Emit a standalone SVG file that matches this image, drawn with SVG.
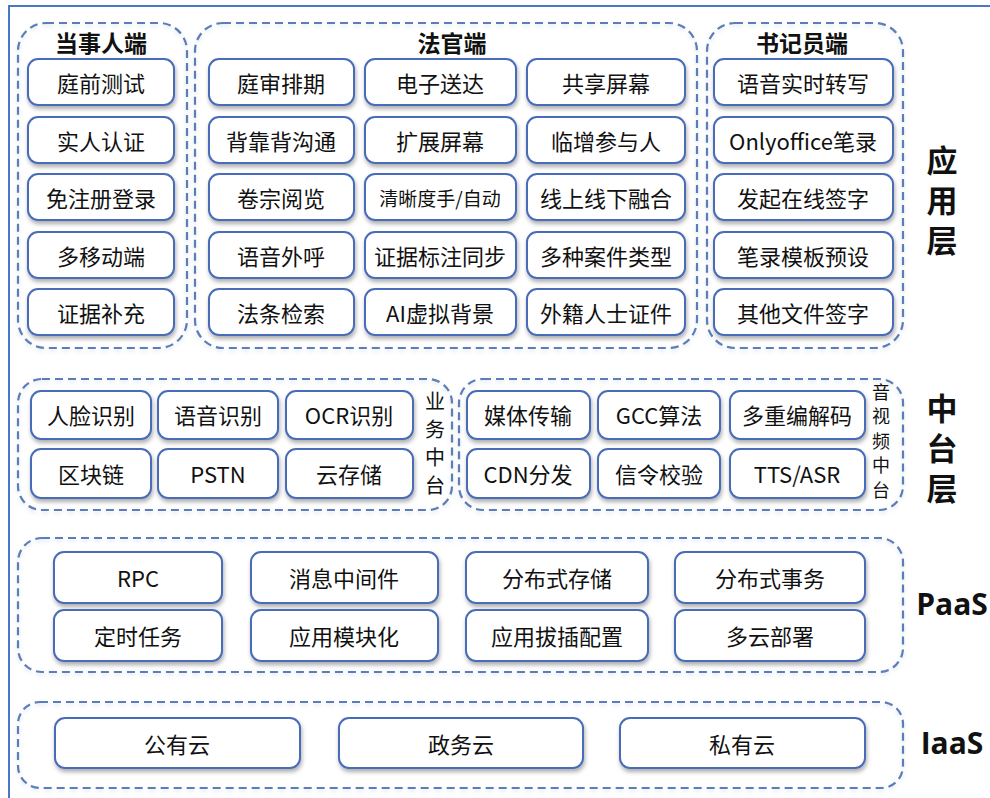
<svg xmlns="http://www.w3.org/2000/svg" width="990" height="798" viewBox="0 0 990 798">
<defs>
<filter id="sh" x="-10%" y="-20%" width="120%" height="150%">
<feDropShadow dx="1" dy="3" stdDeviation="2" flood-color="#000" flood-opacity="0.32"/>
</filter>
<filter id="gsh" x="-5%" y="-5%" width="110%" height="115%">
<feDropShadow dx="0" dy="2" stdDeviation="2" flood-color="#8aa0c8" flood-opacity="0.35"/>
</filter>
<style>
.b rect{fill:#fff;stroke:#4A6CB8;stroke-width:2;filter:url(#sh)}
.g{fill:none;stroke:#5B7DB5;stroke-width:2.2;stroke-dasharray:8 5;filter:url(#gsh)}
text{font-family:"Noto Sans CJK SC","Noto Sans",sans-serif;fill:#111;text-anchor:middle;dominant-baseline:central}
.t{font-size:22px}
.s{font-size:19px}
.h{font-size:23px;font-weight:bold}
.vt{writing-mode:vertical-rl}
.v{font-size:20px;letter-spacing:8px}
.w{font-size:18px;letter-spacing:6.5px}
.L{font-size:31px;font-weight:bold;letter-spacing:9px}
.E{font-family:"Open Sans","Noto Sans",sans-serif;font-size:30px;font-weight:bold}
</style>
</defs>
<rect x="0" y="0" width="990" height="798" fill="#fff"/>
<rect x="9" y="6" width="1100" height="1000" fill="none" stroke="#4A78C8" stroke-width="2"/>

<g id="groups">
<rect class="g" x="18" y="23" width="169" height="325" rx="28"/>
<rect class="g" x="195" y="23" width="502" height="325" rx="28"/>
<rect class="g" x="707" y="23" width="196" height="325" rx="28"/>
<rect class="g" x="18" y="379" width="434" height="131" rx="24"/>
<rect class="g" x="459" y="379" width="444" height="131" rx="24"/>
<rect class="g" x="18" y="538" width="885" height="134" rx="24"/>
<rect class="g" x="18" y="702" width="885" height="86" rx="22"/>
</g>

<g id="labels">
<text class="h" x="101" y="42">当事人端</text>
<text class="h" x="452" y="42">法官端</text>
<text class="h" x="802" y="42">书记员端</text>
<text class="L vt" x="942" y="204.5">应用层</text>
<text class="L vt" x="942" y="452.5">中台层</text>
<text class="E" x="952" y="603">PaaS</text>
<text class="E" x="952" y="742">IaaS</text>
<text class="v vt" x="435" y="447">业务中台</text>
<text class="w vt" x="881" y="444.25">音视频中台</text>
</g>

<g id="n-dsr" class="b">
<rect x="28" y="59" width="146" height="46" rx="10"/><text class="t" x="101" y="82">庭前测试</text>
<rect x="28" y="117" width="146" height="46" rx="10"/><text class="t" x="101" y="140">实人认证</text>
<rect x="28" y="174" width="146" height="46" rx="10"/><text class="t" x="101" y="197">免注册登录</text>
<rect x="28" y="232" width="146" height="46" rx="10"/><text class="t" x="101" y="255">多移动端</text>
<rect x="28" y="289" width="146" height="46" rx="10"/><text class="t" x="101" y="312">证据补充</text>
</g>

<g id="n-fg" class="b">
<rect x="209" y="59" width="145" height="46" rx="10"/><text class="t" x="281" y="82">庭审排期</text>
<rect x="209" y="117" width="145" height="46" rx="10"/><text class="t" x="281" y="140">背靠背沟通</text>
<rect x="209" y="174" width="145" height="46" rx="10"/><text class="t" x="281" y="197">卷宗阅览</text>
<rect x="209" y="232" width="145" height="46" rx="10"/><text class="t" x="281" y="255">语音外呼</text>
<rect x="209" y="289" width="145" height="46" rx="10"/><text class="t" x="281" y="312">法条检索</text>
<rect x="365" y="59" width="151" height="46" rx="10"/><text class="t" x="440" y="82">电子送达</text>
<rect x="365" y="117" width="151" height="46" rx="10"/><text class="t" x="440" y="140">扩展屏幕</text>
<rect x="365" y="174" width="151" height="46" rx="10"/><text class="s" x="440" y="197">清晰度手/自动</text>
<rect x="365" y="232" width="151" height="46" rx="10"/><text class="t" x="440" y="255">证据标注同步</text>
<rect x="365" y="289" width="151" height="46" rx="10"/><text class="t" x="440" y="312">AI虚拟背景</text>
<rect x="527" y="59" width="158" height="46" rx="10"/><text class="t" x="606" y="82">共享屏幕</text>
<rect x="527" y="117" width="158" height="46" rx="10"/><text class="t" x="606" y="140">临增参与人</text>
<rect x="527" y="174" width="158" height="46" rx="10"/><text class="t" x="606" y="197">线上线下融合</text>
<rect x="527" y="232" width="158" height="46" rx="10"/><text class="t" x="606" y="255">多种案件类型</text>
<rect x="527" y="289" width="158" height="46" rx="10"/><text class="t" x="606" y="312">外籍人士证件</text>
</g>

<g id="n-sjy" class="b">
<rect x="714" y="59" width="179" height="46" rx="10"/><text class="t" x="803" y="82">语音实时转写</text>
<rect x="714" y="117" width="179" height="46" rx="10"/><text class="t" x="803" y="140">Onlyoffice笔录</text>
<rect x="714" y="174" width="179" height="46" rx="10"/><text class="t" x="803" y="197">发起在线签字</text>
<rect x="714" y="232" width="179" height="46" rx="10"/><text class="t" x="803" y="255">笔录模板预设</text>
<rect x="714" y="289" width="179" height="46" rx="10"/><text class="t" x="803" y="312">其他文件签字</text>
</g>

<g id="n-yw" class="b">
<rect x="31" y="391" width="120" height="48" rx="10"/><text class="t" x="91" y="414">人脸识别</text>
<rect x="158" y="391" width="120" height="48" rx="10"/><text class="t" x="218" y="414">语音识别</text>
<rect x="286" y="391" width="127" height="48" rx="10"/><text class="t" x="349" y="414">OCR识别</text>
<rect x="31" y="449" width="120" height="49" rx="10"/><text class="t" x="91" y="473">区块链</text>
<rect x="158" y="449" width="120" height="49" rx="10"/><text class="t" x="218" y="473">PSTN</text>
<rect x="286" y="449" width="127" height="49" rx="10"/><text class="t" x="349" y="473">云存储</text>
</g>

<g id="n-ysp" class="b">
<rect x="467" y="391" width="123" height="48" rx="10"/><text class="t" x="528" y="414">媒体传输</text>
<rect x="598" y="391" width="122" height="48" rx="10"/><text class="t" x="659" y="414">GCC算法</text>
<rect x="730" y="391" width="135" height="48" rx="10"/><text class="t" x="797" y="414">多重编解码</text>
<rect x="467" y="449" width="123" height="49" rx="10"/><text class="t" x="528" y="473">CDN分发</text>
<rect x="598" y="449" width="122" height="49" rx="10"/><text class="t" x="659" y="473">信令校验</text>
<rect x="730" y="449" width="135" height="49" rx="10"/><text class="t" x="797" y="473">TTS/ASR</text>
</g>

<g id="n-paas" class="b">
<rect x="54" y="552" width="168" height="51" rx="10"/><text class="t" x="138" y="577">RPC</text>
<rect x="251" y="552" width="187" height="51" rx="10"/><text class="t" x="344" y="577">消息中间件</text>
<rect x="466" y="552" width="182" height="51" rx="10"/><text class="t" x="557" y="577">分布式存储</text>
<rect x="675" y="552" width="190" height="51" rx="10"/><text class="t" x="770" y="577">分布式事务</text>
<rect x="54" y="610" width="168" height="51" rx="10"/><text class="t" x="138" y="635">定时任务</text>
<rect x="251" y="610" width="187" height="51" rx="10"/><text class="t" x="344" y="635">应用模块化</text>
<rect x="466" y="610" width="182" height="51" rx="10"/><text class="t" x="557" y="635">应用拔插配置</text>
<rect x="675" y="610" width="190" height="51" rx="10"/><text class="t" x="770" y="635">多云部署</text>
</g>

<g id="n-iaas" class="b">
<rect x="55" y="718" width="245" height="50" rx="10"/><text class="t" x="177" y="743">公有云</text>
<rect x="339" y="718" width="244" height="50" rx="10"/><text class="t" x="461" y="743">政务云</text>
<rect x="620" y="718" width="245" height="50" rx="10"/><text class="t" x="742" y="743">私有云</text>
</g>

<g id="connectors"></g>
</svg>
